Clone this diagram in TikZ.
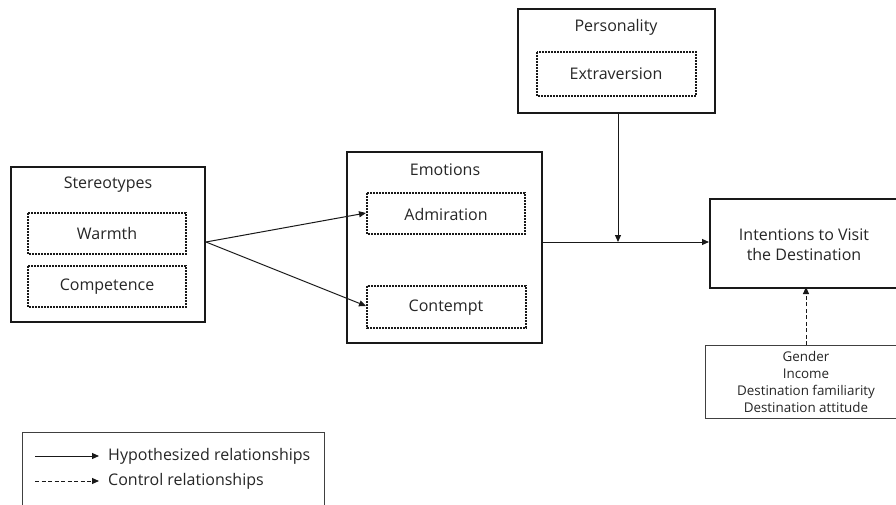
\documentclass[tikz,border=0pt]{standalone}
\usepackage{fontspec}
\setmainfont{Open Sans}
\usetikzlibrary{arrows.meta}
\begin{document}
\begin{tikzpicture}[x=1pt,y=-1pt,
  thickbox/.style={draw=black!90,line width=2.5pt},
  dotbox/.style={draw=black!90,line width=1.8pt,dash pattern=on 1.6pt off 1.4pt},
  thinbox/.style={draw=black!75,line width=1pt},
  lbl/.style={font=\fontsize{16}{20}\selectfont,text=black!85,inner sep=0pt},
  small/.style={font=\fontsize{13.4}{16.8}\selectfont,text=black!85,inner sep=0pt,align=center},
  arr/.style={draw=black!90,line width=1pt,-{Triangle[length=7pt,width=6pt]}},
  darr/.style={arr,dash pattern=on 4pt off 2.5pt}]
\useasboundingbox (0,0) rectangle (896,505);
\fill[white] (0,0) rectangle (896,505);
% Stereotypes
\draw[thickbox] (11,167) rectangle (205,322);
\node[lbl] (st) at (108,185) {Stereotypes};
\draw[dotbox] (28,213) rectangle (186,254);
\node[lbl] (wa) at (107,233) {Warmth};
\draw[dotbox] (28,266) rectangle (186,307);
\node[lbl] (co) at (107,287) {Competence};
\coordinate (stR) at (206,242);
% Emotions
\draw[thickbox] (347,152) rectangle (542,343);
\node[lbl] (em) at (445,170) {Emotions};
\draw[dotbox] (367,193) rectangle (525,234);
\node[lbl] (ad) at (446,214) {Admiration};
\draw[dotbox] (367,286) rectangle (526,328);
\node[lbl] (ct) at (446,308) {Contempt};
\coordinate (adL) at (366,213);
\coordinate (ctL) at (366,306);
\coordinate (emR) at (543,242);
% Personality
\draw[thickbox] (518,9) rectangle (715,113);
\node[lbl] (pe) at (616,27) {Personality};
\draw[dotbox] (537,52) rectangle (696,96);
\node[lbl] (ex) at (616,74) {Extraversion};
\coordinate (peB) at (618,114);
\coordinate (jn) at (618,242);
% Intentions
\draw[thickbox] (710,199) rectangle (902,288);
\node[lbl,align=center] (in) at (804,245) {Intentions to Visit\\the Destination};
\coordinate (inL) at (709,242);
\coordinate (inB) at (806,287);
% Control
\draw[thinbox] (705,345) rectangle (902,418);
\node[small] (cv) at (806,382) {Gender\\Income\\Destination familiarity\\Destination attitude};
\coordinate (cvT) at (806,345);
% arrows
\draw[arr] (stR) -- (adL);
\draw[arr] (stR) -- (ctL);
\draw[arr] (emR) -- (inL);
\draw[arr] (peB) -- (jn);
\draw[darr] (cvT) -- (inB);
% legend
\draw[thinbox] (22,432) rectangle (324,510);
\coordinate (l1a) at (35,456);
\coordinate (l1b) at (99,456);
\coordinate (l2a) at (35,481);
\coordinate (l2b) at (99,481);
\draw[arr] (l1a) -- (l1b);
\draw[darr] (l2a) -- (l2b);
\node[lbl,anchor=west] (h) at (108,456) {Hypothesized relationships};
\node[lbl,anchor=west] (c) at (108,481) {Control relationships};
\end{tikzpicture}
\end{document}
